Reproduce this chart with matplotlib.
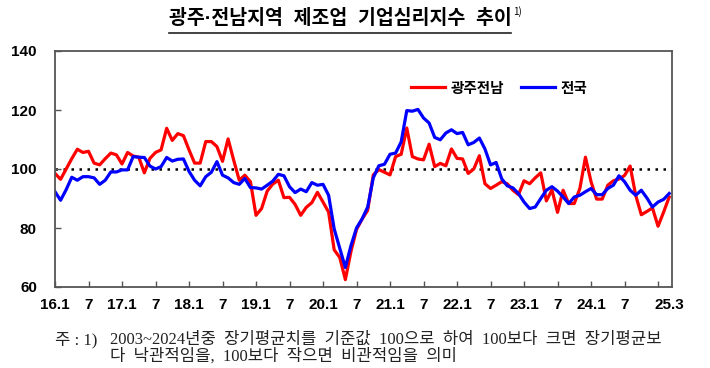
import matplotlib
matplotlib.use("Agg")
import matplotlib.pyplot as plt
from matplotlib import font_manager as fm

# ---- data ----
title_text = "광주·전남지역  제조업  기업심리지수  추이"
series_names = ["광주전남", "전국"]
x_tick_labels = ["16.1", "7", "17.1", "7", "18.1", "7", "19.1", "7", "20.1", "7",
                 "21.1", "7", "22.1", "7", "23.1", "7", "24.1", "7", "", "25.3"]
y_ticks = [60, 80, 100, 120, 140]
gwangju = [98.5, 96.5, 100, 103.5, 106.7, 105.6, 106, 102, 101.4, 103.5,
           105.4, 104.8, 101.7, 105.6, 104.4, 104, 98.7, 103.6, 105.6, 106.5,
           113.8, 109.7, 112, 111.3, 106.5, 102, 102, 109.3, 109.3, 107.6,
           102.6, 110.2, 103, 96.2, 97.9, 95.7, 84.3, 86.6, 92.5, 94.9,
           96.2, 90.3, 90.4, 88, 84.3, 87, 88.6, 92.1, 88.8, 85.4,
           72.6, 70, 62.5, 72, 79.5, 83, 86, 98, 99.8, 98.9,
           98, 104.2, 105, 113.9, 104.2, 103.4, 103.1, 108.4, 100.8, 101.9,
           101.1, 106.8, 103.6, 103.4, 98.5, 100, 104.5, 95, 93.4, 94.5,
           95.7, 95, 92.8, 91.3, 96, 95, 97, 98.7, 89.2, 92.9,
           85.3, 92.8, 88.3, 88.3, 93.4, 104, 95.7, 89.8, 89.8, 94.5,
           96, 96.6, 97.8, 101, 91.1, 84.5, 85.6, 86.8, 80.6, 85.4,
           90.5]
national = [92.3, 89.4, 93, 97.2, 96.2, 97.4, 97.4, 97, 94.8, 96.2,
            99, 99, 99.7, 99.7, 104.2, 104, 103.9, 101, 100, 100.8,
            103.9, 102.7, 103.3, 103.4, 99.2, 96.2, 94.3, 97.4, 98.9, 102.5,
            97.9, 97, 95.4, 94.8, 96.8, 93.7, 93.6, 93.2, 94.5, 95.9,
            98.2, 97.7, 94, 92, 93.2, 92.3, 95.4, 94.5, 94.8, 91.1,
            79.7, 73.1, 66.6, 74, 80, 83.1, 87.1, 97, 101.1, 101.6,
            105, 105.4, 109.2, 119.8, 119.6, 120.2, 117.3, 115.6, 110.7, 109.9,
            112.2, 113.3, 112, 112.4, 108.2, 109, 110.5, 106.8, 101.4, 102.2,
            96.7, 94.3, 93.6, 91.7, 88.8, 86.6, 87.1, 90, 92.8, 94,
            92.5, 90.5, 88.3, 90.5, 91.1, 92.3, 93.4, 91.3, 91.3, 93.4,
            94.5, 97.7, 95.7, 92.8, 91.1, 92.8, 90.2, 87.1, 88.8, 89.7,
            91.7]
baseline = 100
footnote_head = "주 : 1)"
footnote1 = "2003~2024년중  장기평균치를  기준값  100으로  하여  100보다  크면  장기평균보"
footnote2 = "다  낙관적임을,  100보다  작으면  비관적임을  의미"

# ---- fonts ----
names = {f.name for f in fm.fontManager.ttflist}
num_font = "Liberation Sans Narrow" if "Liberation Sans Narrow" in names else "Liberation Sans"
kr = ["Noto Sans CJK KR", "DejaVu Sans"]
title_fam = ["Liberation Sans", "Noto Sans CJK KR"]
note_fam = ["Liberation Serif", "Noto Sans CJK KR"]
plt.rcParams['font.family'] = kr

fig = plt.figure(figsize=(7.1, 3.68), dpi=100)
ax = fig.add_axes([55/710, 1-287/368, (672-55)/710, (287-51)/368])

x = list(range(len(gwangju)))
ax.plot(x, gwangju, color="#FF0000", lw=2.3, label=series_names[0])
ax.plot(x, national, color="#0000FF", lw=2.3, label=series_names[1])
ax.axhline(baseline, color="black", lw=1.8, linestyle=(0, (1, 2.2)), zorder=1)

ax.set_xlim(0, 110.5)
ax.set_ylim(60, 140)
xt = list(range(0, 109, 6)) + [110]
ax.set_xticks(xt)
ax.set_xticklabels(x_tick_labels, fontfamily=num_font, fontweight="bold", fontsize=11)
ax.set_yticks(y_ticks)
ax.set_yticklabels([str(v) for v in y_ticks], fontfamily=num_font, fontweight="bold", fontsize=11)
ax.tick_params(axis="x", direction="in", length=4.5, width=1, color="#555555", pad=8)
ax.tick_params(axis="y", direction="in", length=4.5, width=1, color="#555555", pad=13)
ax.xaxis.get_major_ticks()[-1].tick1line.set_visible(False)
for s in ax.spines.values():
    s.set_color("#555555")
    s.set_linewidth(1.3)

ax.legend(loc="center", bbox_to_anchor=(0.72, 0.845), ncol=2, frameon=False,
          handlelength=2.3, columnspacing=1.2, handletextpad=0.4,
          prop=fm.FontProperties(family=kr, weight="bold", size=10.5))

# title
t = fig.text(340/710, 1-19/368, title_text, ha="center", va="center",
             fontsize=14, fontweight="bold", family=title_fam)
fig.canvas.draw()
bb = t.get_window_extent(renderer=fig.canvas.get_renderer())
fig.text(bb.x1/710 + 2/710, 1-12/368, "1)", ha="left", va="center", fontsize=7, family=kr)
fig.add_artist(plt.Line2D([bb.x0/710, bb.x1/710], [1-33/368, 1-33/368], color="#222222", lw=1.2))

fig.text(55/710, 1-340/368, footnote_head, ha="left", va="center", fontsize=12, family=note_fam, color="#222222")
fig.text(110/710, 1-340/368, footnote1, ha="left", va="center", fontsize=12, family=note_fam, color="#222222")
fig.text(110/710, 1-356/368, footnote2, ha="left", va="center", fontsize=12, family=note_fam, color="#222222")

fig.savefig("out.png", dpi=100)
